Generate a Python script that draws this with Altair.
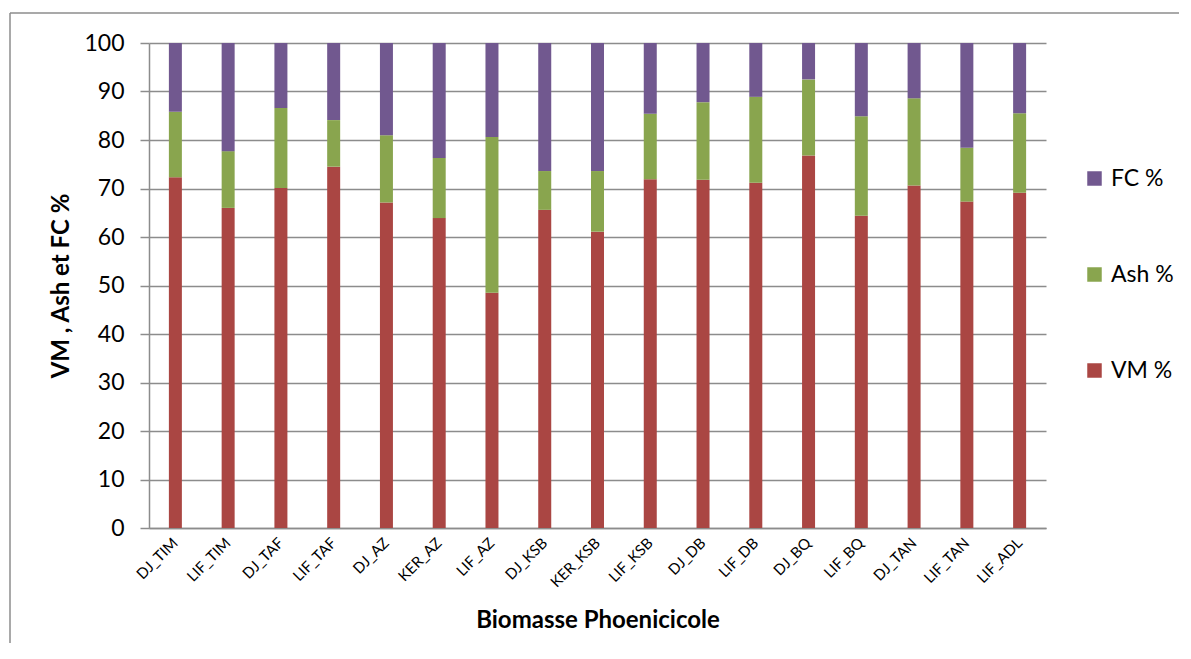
import altair as alt
import pandas as pd

categories = ["DJ_TIM", "LIF_TIM", "DJ_TAF", "LIF_TAF", "DJ_AZ", "KER_AZ", "LIF_AZ",
              "DJ_KSB", "KER_KSB", "LIF_KSB", "DJ_DB", "LIF_DB", "DJ_BQ", "LIF_BQ",
              "DJ_TAN", "LIF_TAN", "LIF_ADL"]
vm = [72.3, 66.0, 70.1, 74.5, 67.1, 63.9, 48.5, 65.6, 61.1, 71.9, 71.8, 71.2, 76.8, 64.4, 70.6, 67.3, 69.1]
ash = [13.5, 11.7, 16.5, 9.6, 13.9, 12.4, 32.1, 8.0, 12.5, 13.5, 16.0, 17.7, 15.7, 20.5, 18.0, 11.1, 16.4]
fc = [14.2, 22.3, 13.4, 15.9, 19.0, 23.7, 19.4, 26.4, 26.4, 14.6, 12.2, 11.1, 7.5, 15.1, 11.4, 21.6, 14.5]

series_names = ["VM %", "Ash %", "FC %"]
series_colors = ["#AA4643", "#89A54E", "#71588F"]

rows = []
for i, c in enumerate(categories):
    for k, (name, vals) in enumerate(zip(series_names, [vm, ash, fc])):
        rows.append({"cat": c, "serie": name, "val": vals[i], "ord": k})
df = pd.DataFrame(rows)

FONT = "Lato"

bars = alt.Chart(df).mark_bar(size=13).encode(
    x=alt.X("cat:N", sort=categories, scale=alt.Scale(paddingInner=0, paddingOuter=0),
            axis=alt.Axis(title="Biomasse Phoenicicole", labelAngle=-45, labelAlign="right",
                          labelBaseline="middle", labelPadding=12, labelFontSize=15,
                          ticks=False, titleFontSize=24, titleFontWeight="bold",
                          titleY=99, titleBaseline="alphabetic")),
    y=alt.Y("val:Q", stack="zero", scale=alt.Scale(domain=[0, 100], nice=False),
            axis=alt.Axis(title="VM , Ash et FC %", values=list(range(0, 101, 10)),
                          labelFontSize=23, labelPadding=16, tickSize=9,
                          titleFontSize=24, titleFontWeight="bold",
                          titleX=-81, titleY=242.5, titleAngle=-90,
                          titleBaseline="alphabetic", titleAlign="center")),
    color=alt.Color("serie:N",
                    scale=alt.Scale(domain=series_names, range=series_colors),
                    sort=["FC %", "Ash %", "VM %"],
                    legend=alt.Legend(title=None, orient="none", legendX=934, legendY=124,
                                      values=["FC %", "Ash %", "VM %"],
                                      symbolType="square", symbolSize=210,
                                      symbolStrokeWidth=0, labelFontSize=23,
                                      labelOffset=5, rowPadding=72)),
    order=alt.Order("ord:Q", sort="ascending"),
)

frame = pd.DataFrame({"a": [0]})
top_line = alt.Chart(frame).mark_rule(stroke="#8c8c8c", strokeWidth=1.5).encode(
    x=alt.value(-139), x2=alt.value(1030), y=alt.value(-30)
)
left_line = alt.Chart(frame).mark_rule(stroke="#8c8c8c", strokeWidth=1.5).encode(
    x=alt.value(-139), y=alt.value(-30), y2=alt.value(610)
)

chart = alt.layer(top_line, left_line, bars).properties(
    width=897, height=485,
    autosize=alt.AutoSizeParams(type="none"),
    padding={"left": 141, "top": 35, "right": 137, "bottom": 115},
).configure(font=FONT).configure_axis(
    labelColor="#000000", titleColor="#000000", labelFont=FONT, titleFont=FONT,
    domainColor="#8c8c8c", domainWidth=1.5, tickColor="#8c8c8c", tickWidth=1.5,
    gridColor="#8c8c8c", gridWidth=1.5,
).configure_axisX(grid=False).configure_legend(
    labelColor="#000000", labelFont=FONT
).configure_view(stroke=None)

chart.save("out.html", embed_options={"renderer": "svg", "actions": False})
